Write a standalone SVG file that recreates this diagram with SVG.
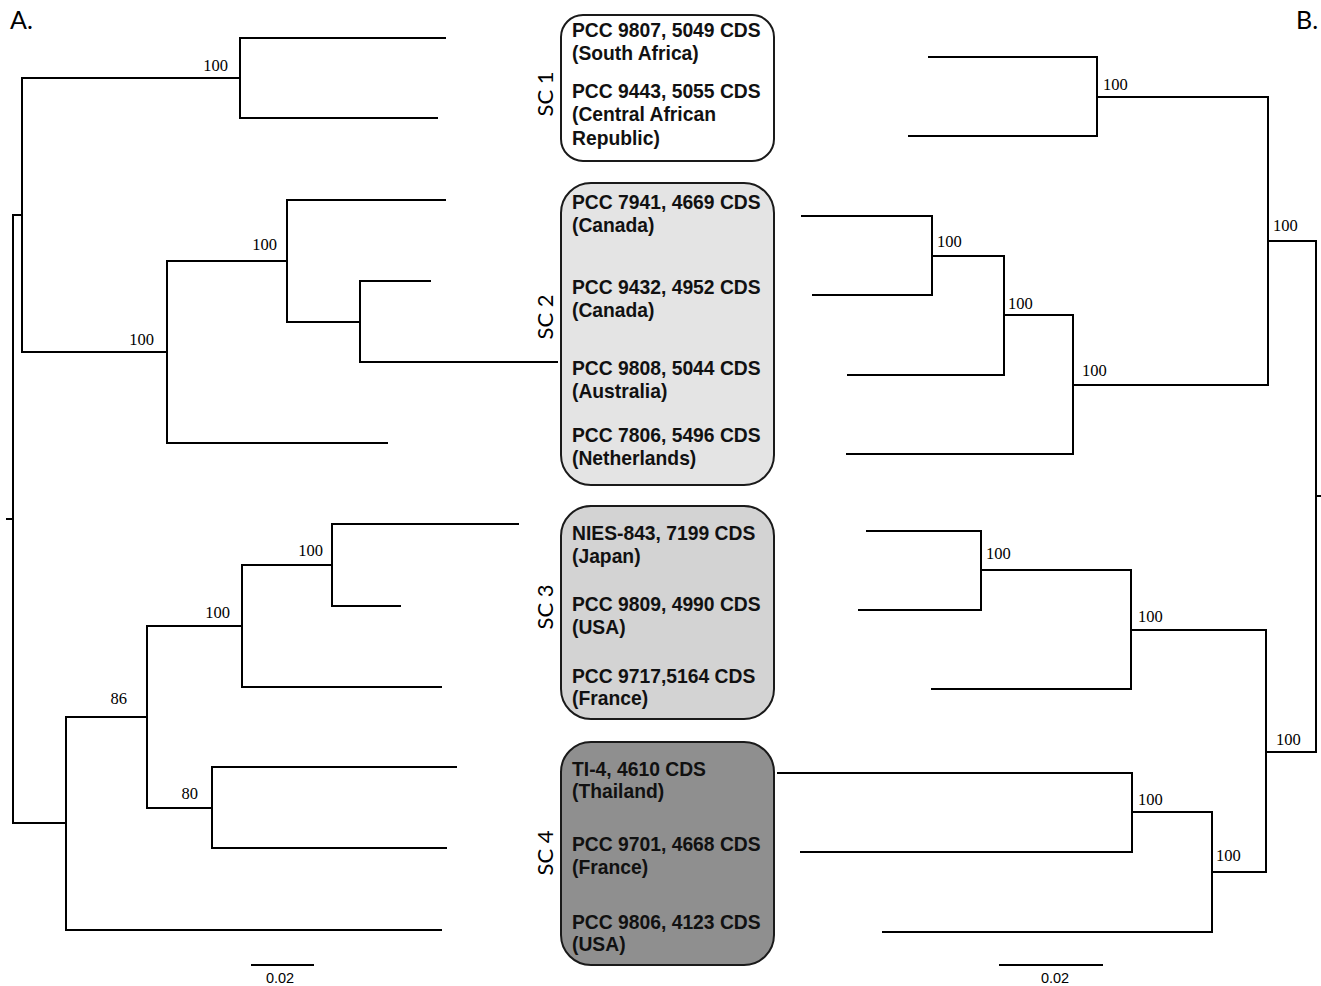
<svg xmlns="http://www.w3.org/2000/svg" width="1321" height="986" viewBox="0 0 1321 986">
<style>
.br{fill:none;stroke:#000;stroke-width:2;stroke-linecap:square}
.bs{font-family:"Liberation Serif",serif;font-size:16.5px;fill:#000}
.box{stroke:#1a1a1a;stroke-width:2}
.t{font-family:"Liberation Sans",Arial,sans-serif;font-weight:bold;font-size:19.3px;fill:#111}
.sc{font-family:Lato,"Open Sans",sans-serif;font-size:22px;fill:#000;text-anchor:middle}
.pl{font-family:Lato,"Open Sans",sans-serif;font-size:25px;fill:#000}
.sb{font-family:"Liberation Sans",Arial,sans-serif;font-size:14.5px;fill:#000;text-anchor:middle}
</style>
<rect width="1321" height="986" fill="#fff"/>
<text class="pl" x="10" y="29">A.</text>
<text class="pl" x="1296" y="29">B.</text>
<g id="connectors">
<path class="br" d="M7,519H13 M13,215V823 M13,215H22 M22,78V352 M22,78H240 M240,38V118 M240,38H445 M240,118H437 M22,352H167 M167,261V443 M167,443H387 M167,261H287 M287,200V322 M287,200H445 M287,322H360 M360,281V362 M360,281H430 M360,362H557 M13,823H66 M66,717V930 M66,930H441 M66,717H147 M147,626V808 M147,626H242 M242,565V687 M242,687H441 M242,565H332 M332,524V606 M332,524H518 M332,606H400 M147,808H212 M212,767V848 M212,767H456 M212,848H446"/>
<path class="br" d="M1316,496H1321 M1316,241V752 M1268,241H1316 M1268,97V385 M1097,97H1268 M1097,57V136 M929,57H1097 M909,136H1097 M1073,385H1268 M1073,315V454 M847,454H1073 M1004,315H1073 M1004,256V375 M848,375H1004 M932,256H1004 M932,216V295 M802,216H932 M813,295H932 M1266,752H1316 M1266,630V872 M1131,630H1266 M1131,570V689 M932,689H1131 M981,570H1131 M981,531V610 M867,531H981 M859,610H981 M1212,872H1266 M1212,812V932 M883,932H1212 M1132,812H1212 M1132,773V852 M778,773H1132 M801,852H1132"/>
</g>
<g id="support-a" class="bs" text-anchor="end">
<text x="228" y="71">100</text>
<text x="154" y="345">100</text>
<text x="277" y="250">100</text>
<text x="127" y="704">86</text>
<text x="230" y="618">100</text>
<text x="323" y="556">100</text>
<text x="198" y="799">80</text>
</g>
<g id="support-b" class="bs">
<text x="1103" y="90">100</text>
<text x="1273" y="231">100</text>
<text x="1082" y="376">100</text>
<text x="1008" y="309">100</text>
<text x="937" y="247">100</text>
<text x="986" y="559">100</text>
<text x="1138" y="622">100</text>
<text x="1276" y="745">100</text>
<text x="1216" y="861">100</text>
<text x="1138" y="805">100</text>
</g>
<g id="sc1">
<rect class="box" x="561" y="15" width="213" height="146" rx="22" fill="#fff"/>
<text class="sc" transform="translate(553,94) rotate(-90)">SC 1</text>
<text class="t" x="572" y="37">PCC 9807, 5049 CDS</text>
<text class="t" x="572" y="60">(South Africa)</text>
<text class="t" x="572" y="98">PCC 9443, 5055 CDS</text>
<text class="t" x="572" y="121">(Central African</text>
<text class="t" x="572" y="145">Republic)</text>
</g>
<g id="sc2">
<rect class="box" x="561" y="183" width="213" height="302" rx="30" fill="#e4e4e4"/>
<text class="sc" transform="translate(553,317) rotate(-90)">SC 2</text>
<text class="t" x="572" y="209">PCC 7941, 4669 CDS</text>
<text class="t" x="572" y="232">(Canada)</text>
<text class="t" x="572" y="294">PCC 9432, 4952 CDS</text>
<text class="t" x="572" y="317">(Canada)</text>
<text class="t" x="572" y="375">PCC 9808, 5044 CDS</text>
<text class="t" x="572" y="398">(Australia)</text>
<text class="t" x="572" y="442">PCC 7806, 5496 CDS</text>
<text class="t" x="572" y="465">(Netherlands)</text>
</g>
<g id="sc3">
<rect class="box" x="561" y="506" width="213" height="213" rx="30" fill="#d3d3d3"/>
<text class="sc" transform="translate(553,607) rotate(-90)">SC 3</text>
<text class="t" x="572" y="540">NIES-843, 7199 CDS</text>
<text class="t" x="572" y="563">(Japan)</text>
<text class="t" x="572" y="611">PCC 9809, 4990 CDS</text>
<text class="t" x="572" y="634">(USA)</text>
<text class="t" x="572" y="683">PCC 9717,5164 CDS</text>
<text class="t" x="572" y="705">(France)</text>
</g>
<g id="sc4">
<rect class="box" x="561" y="742" width="213" height="223" rx="30" fill="#8f8f8f"/>
<text class="sc" transform="translate(553,853) rotate(-90)">SC 4</text>
<text class="t" x="572" y="776">TI-4, 4610 CDS</text>
<text class="t" x="572" y="798">(Thailand)</text>
<text class="t" x="572" y="851">PCC 9701, 4668 CDS</text>
<text class="t" x="572" y="874">(France)</text>
<text class="t" x="572" y="929">PCC 9806, 4123 CDS</text>
<text class="t" x="572" y="951">(USA)</text>
</g>
<g id="scalebars">
<path class="br" d="M252,965H313 M1000,965H1102"/>
<text class="sb" x="280" y="983">0.02</text>
<text class="sb" x="1055" y="983">0.02</text>
</g>
</svg>
